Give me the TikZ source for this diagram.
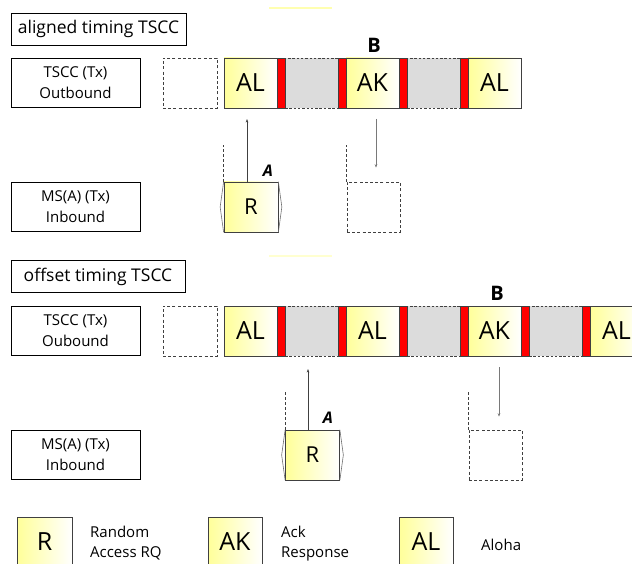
\documentclass[tikz,border=0pt]{standalone}
\usepackage{fontspec}
\setmainfont{Open Sans}
\usepackage{tikz}
\usetikzlibrary{arrows.meta,positioning}
\definecolor{Pale}{HTML}{FFFF99}
\definecolor{Slot}{HTML}{DCDCDC}
\definecolor{Frame}{HTML}{404040}
\definecolor{Guard}{HTML}{FF0000}
\definecolor{Glow}{HTML}{FFFFB0}

\begin{document}
\begin{tikzpicture}[
  x=1pt, y=-1pt,
  font=\fontsize{15}{21}\selectfont,
  chan/.style={draw=black, line width=.8pt, minimum width=129pt, minimum height=49pt,
    align=center, inner sep=0pt},
  title/.style={draw=black, line width=.8pt, minimum height=32pt, inner sep=0pt,
    font=\fontsize{17.5}{20}\selectfont},
  msg/.style={draw=Frame, line width=.7pt, left color=Pale, right color=white,
    minimum width=53pt, minimum height=50pt, inner sep=0pt, font=\fontsize{25}{26}\selectfont},
  idle/.style={draw=Frame, dashed, dash pattern=on 2.5pt off 1.8pt, line width=.6pt, fill=Slot,
    minimum width=53pt, minimum height=50pt, inner sep=0pt},
  guard/.style={draw=Frame, line width=.6pt, fill=Guard, minimum width=8pt, minimum height=50pt,
    inner sep=0pt},
  hole/.style={draw=Frame, dashed, dash pattern=on 3pt off 2.2pt, line width=.7pt,
    minimum width=54pt, minimum height=50pt, inner sep=0pt},
  who/.style={font=\fontsize{20}{22}\selectfont\bfseries, inner sep=0pt},
  ms/.style={font=\fontsize{16}{16}\selectfont\bfseries\itshape, inner sep=0pt},
  sig/.style={-{Stealth[length=3.5pt,width=2.6pt]}, line width=.7pt},
  guide/.style={dashed, dash pattern=on 3pt off 2pt, line width=.6pt, draw=Frame},
  wing/.style={line width=.6pt, draw=Frame!75},
  key/.style={anchor=north west, align=left, inner sep=0pt, font=\fontsize{15}{20}\selectfont}
]
\useasboundingbox (0,0) rectangle (632,564);
\clip (0,0) rectangle (632,564);

% faint marks above each section
\draw[Glow, line width=1.6pt] (269,8) -- (332,8);
\draw[Glow!60, line width=1.6pt] (269,256) -- (332,256);

% Aligned timing: slots of the outbound TSCC.
\node[title, minimum width=175pt] (titleA) at (98.5,29) {aligned timing TSCC};
\node[chan] (txA) at (75.5,82.5) {TSCC (Tx)\\Outbound};
\node[chan] (rxA) at (75.5,207) {MS(A) (Tx)\\Inbound};

\node[hole] (prevA) at (190,83) {};
\node[idle] (iA1) at (311.5,83) {};
\node[idle] (iA2) at (433.5,83) {};
\node[msg] (alA1) at (250.5,83) {AL};
\node[msg] (akA) at (372.5,83) {AK};
\node[msg] (alA2) at (494.5,83) {AL};
\node[guard] (gA1) at (281,83) {};
\node[guard] (gA2) at (342,83) {};
\node[guard] (gA3) at (403,83) {};
\node[guard] (gA4) at (464,83) {};
\node[who] (bA) at (374,45) {B};

% random access request of MS A and the awaited answer
\node[msg, minimum width=54pt, font=\fontsize{22}{22}\selectfont] (rA) at (251,207) {R};
\node[hole, minimum width=53pt] (waitA) at (373.5,207) {};
\node[ms] (aA) at (268,171) {A};
\draw[wing] (rA.north west) -- ([xshift=-3.5pt]rA.west) -- (rA.south west);
\draw[wing] (rA.north east) -- ([xshift=3.5pt]rA.east) -- (rA.south east);
\draw[guide] (rA.north west) -- ++(0,-37);
\draw[guide] (waitA.north west) -- ++(0,-37);
\coordinate (upA) at (247,119);
\coordinate (dnA) at (376,119);
\draw[sig, draw=Frame] (rA.north -| upA) -- (upA);
\draw[sig, draw=Frame!70, shorten >=14pt] (dnA) -- (dnA |- waitA.north);

% Offset timing: the same exchange, shifted by half a slot.
\node[title, minimum width=174pt] (titleB) at (98,276.5) {offset timing TSCC};
\node[chan] (txB) at (75.5,331) {TSCC (Tx)\\Oubound};
\node[chan] (rxB) at (75.5,454.5) {MS(A) (Tx)\\Inbound};

\node[hole] (prevB) at (190,331) {};
\node[idle] (iB1) at (311.5,331) {};
\node[idle] (iB2) at (433.5,331) {};
\node[idle] (iB3) at (555.5,331) {};
\node[msg] (alB1) at (250.5,331) {AL};
\node[msg] (alB2) at (372.5,331) {AL};
\node[msg] (akB) at (494.5,331) {AK};
\node[msg] (alB3) at (616.5,331) {AL};
\node[guard] (gB1) at (281,331) {};
\node[guard] (gB2) at (342,331) {};
\node[guard] (gB3) at (403,331) {};
\node[guard] (gB4) at (464,331) {};
\node[guard] (gB5) at (525,331) {};
\node[guard] (gB6) at (586,331) {};
\node[who] (bB) at (497,293) {B};

\node[msg, minimum width=54pt, font=\fontsize{22}{22}\selectfont] (rB) at (312.5,455) {R};
\node[hole, minimum width=53pt] (waitB) at (495.5,455) {};
\node[ms] (aB) at (328,418) {A};
\draw[wing] (rB.north west) -- ([xshift=-3.5pt]rB.west) -- (rB.south west);
\draw[wing] (rB.north east) -- ([xshift=3.5pt]rB.east) -- (rB.south east);
\draw[guide] (rB.north west) -- ++(0,-38);
\draw[guide] (waitB.north west) -- ++(0,-38);
\coordinate (upB) at (308,369);
\coordinate (dnB) at (499,367);
\draw[sig, draw=Frame] (rB.north -| upB) -- (upB);
\draw[sig, draw=Frame!70, shorten >=13pt] (dnB) -- (dnB |- waitB.north);

% Legend.
\node[msg, minimum width=55pt] (keyR) at (44.5,542) {R};
\node[key] (txtR) at (90,526) {Random\\Access RQ};
\node[msg, minimum width=54pt] (keyAK) at (235,542) {AK};
\node[key] (txtAK) at (281,526) {Ack\\Response};
\node[msg, minimum width=54pt] (keyAL) at (426,542) {AL};
\node[key, anchor=west] (txtAL) at (481,545) {Aloha};
\end{tikzpicture}
\end{document}
